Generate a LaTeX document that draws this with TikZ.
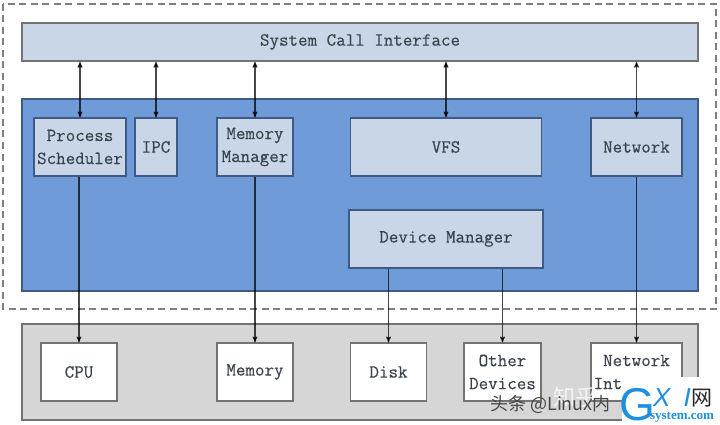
\documentclass[tikz,border=0pt]{standalone}
\usepackage{fontspec}
\usepackage{tikz}
\usetikzlibrary{arrows}
\newfontfamily\labelfont[FakeBold=0.35]{Latin Modern Mono}
\newfontfamily\cjk{Noto Sans CJK SC}
\newfontfamily\logosans{Liberation Sans}
\newfontfamily\logoserif{Liberation Serif}
\definecolor{kernelblue}{HTML}{6F9BD9}
\definecolor{paleblue}{HTML}{C9D6E7}
\definecolor{hwgray}{HTML}{D6D6D6}
\definecolor{textgray}{HTML}{3A444E}
\definecolor{logoblue}{HTML}{1C8FE0}
\definecolor{edgeblue}{HTML}{3F5A85}
\tikzset{
  panel/.style={draw=black!55,line width=1.1pt,inner sep=0pt},
  kbox/.style={panel,draw=edgeblue,fill=paleblue,text=textgray,align=center,font=\fontsize{18.5}{23}\labelfont},
  hbox/.style={kbox,draw=black!55,fill=white},
  link/.style={line width=1.1pt,draw=black,opacity=.72,>=stealth'},
}
\begin{document}
\begin{tikzpicture}[x=1pt,y=-1pt]
\useasboundingbox (0,0) rectangle (720,425);

% backgrounds
\draw[black!50,dash pattern=on 7pt off 4.5pt,line width=1.2pt] (3,4) rectangle (716,309);
\node[panel,draw=edgeblue,fill=kernelblue,minimum width=676pt,minimum height=192pt](kernel) at (360,195){};
\node[panel,fill=hwgray,minimum width=676pt,minimum height=96pt](hardware) at (360,372){};

\node[kbox,draw=black!55,line width=1.5pt,minimum width=676pt,minimum height=38pt](sci) at (360,42){System Call Interface};

% kernel parts
\node[kbox,minimum width=92pt,minimum height=58pt](sched) at (80,147){Process\\Scheduler};
\node[kbox,minimum width=42pt,minimum height=58pt](ipc) at (156,147){IPC};
\node[kbox,minimum width=76pt,minimum height=58pt](mm) at (255,147){Memory\\Manager};
\node[kbox,minimum width=191pt,minimum height=58pt](vfs) at (446,147){VFS};
\node[kbox,minimum width=91pt,minimum height=58pt](net) at (636.5,147){Network};
\node[kbox,minimum width=194pt,minimum height=58pt](dm) at (446,239){Device Manager};

% hardware parts
\node[hbox,minimum width=76pt,minimum height=58pt](cpu) at (79,372){CPU};
\node[hbox,minimum width=76pt,minimum height=58pt](mem) at (255,372){Memory};
\node[hbox,minimum width=76pt,minimum height=58pt](disk) at (388.5,372){Disk};
\node[hbox,minimum width=77pt,minimum height=58pt](other) at (502.5,372){Other\\Devices};
\node[hbox,minimum width=91pt,minimum height=58pt](nic) at (636.5,372){Network\\Interface};

% calls up and down
\foreach \part in {sched,ipc,mm,vfs,net}
  \draw[link,<->] (sci.south -| \part.north) -- (\part.north);
\draw[link,->] (sched.south -| cpu.north) -- (cpu.north);
\draw[link,->] (mm.south) -- (mem.north);
\draw[link,->] (dm.south -| disk.north) -- (disk.north);
\draw[link,->] (dm.south -| other.north) -- (other.north);
\draw[link,->] (net.south) -- (nic.north);

% site marks along the lower edge
\node[inner sep=0pt,text=white,opacity=.75,font=\fontsize{22}{22}\cjk](ghost) at (575,397){知乎};
\node[anchor=west,inner sep=0pt,text=black!72,font=\fontsize{18}{18}\cjk](mark) at (490,404){头条 @Linux内};
\fill[white] (622,377) rectangle (720,425);
\node[inner sep=0pt,text=logoblue,font=\fontsize{46}{46}\logosans](logog) at (637,405){G};
\node[inner sep=0pt,text=logoblue,font=\fontsize{26}{26}\logosans\itshape](logoxi) at (672,398){X\,\,\,I};
\node[inner sep=0pt,text=black!85,font=\fontsize{21}{21}\cjk](logonet) at (702,398){网};
\node[inner sep=0pt,text=logoblue,font=\fontsize{13}{13}\logoserif\bfseries](logosite) at (682,417){system.com};
\end{tikzpicture}
\end{document}
